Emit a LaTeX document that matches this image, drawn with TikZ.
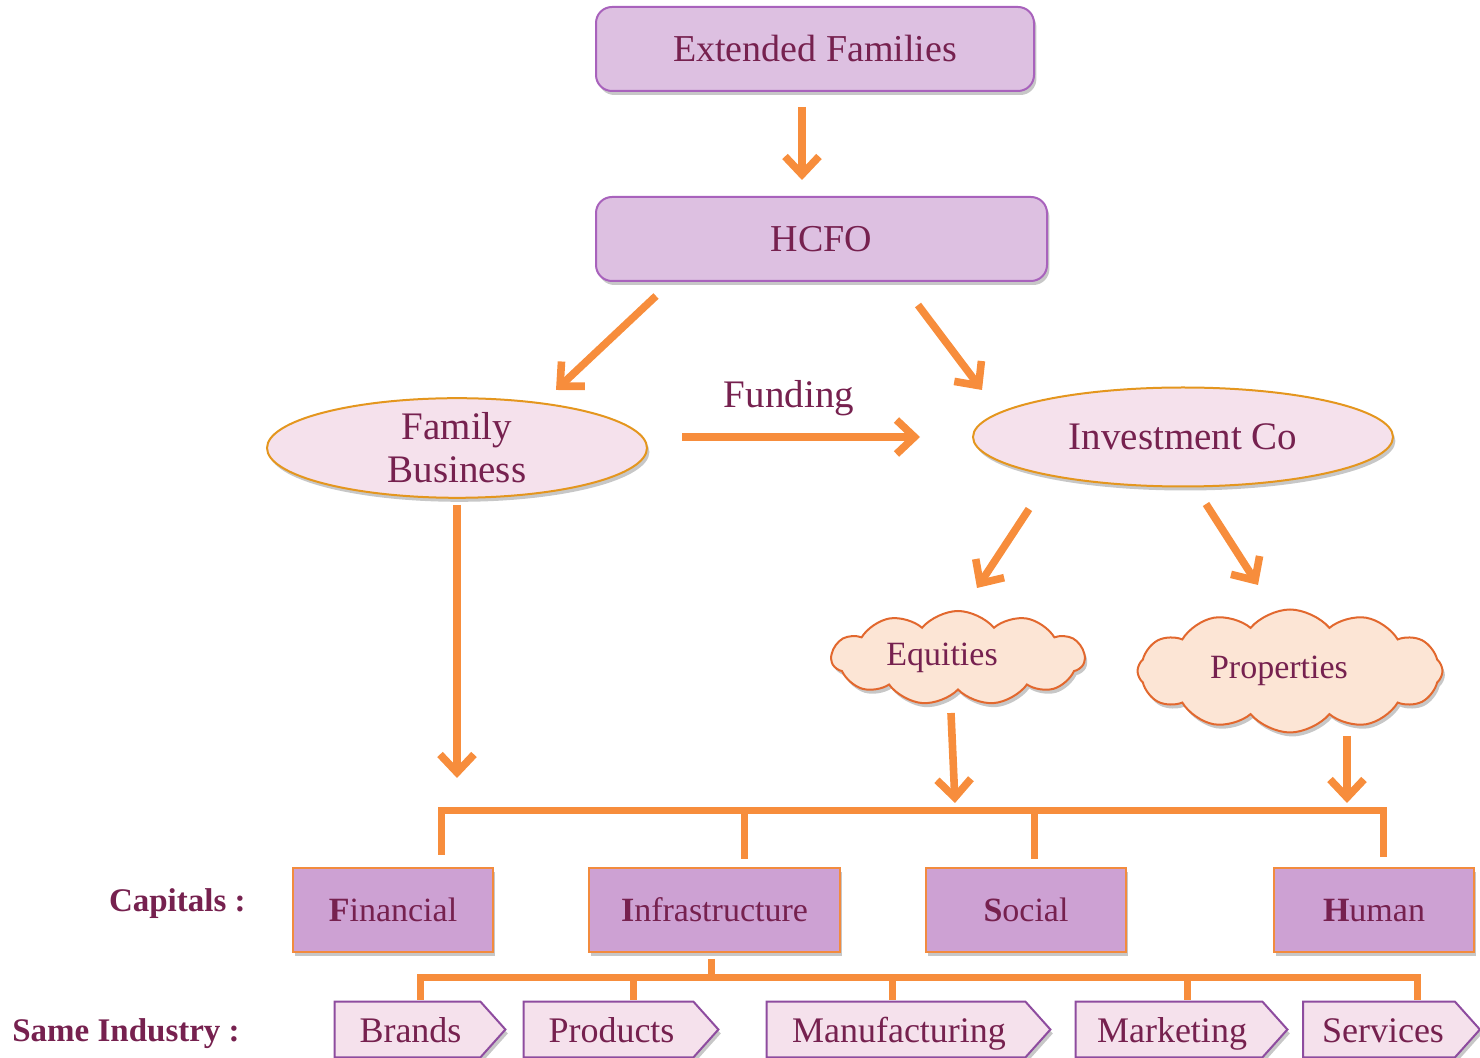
\documentclass[tikz,border=0pt]{standalone}
\usepackage{fontspec}
\setmainfont{Liberation Serif}
\usetikzlibrary{shapes.geometric,shapes.symbols,arrows.meta,shadows,backgrounds}
\definecolor{txt}{HTML}{76214F}
\definecolor{boxfill}{HTML}{DDC0E1}
\definecolor{boxline}{HTML}{A862BC}
\definecolor{ellfill}{HTML}{F5E1EC}
\definecolor{ellline}{HTML}{E4961E}
\definecolor{cloudfill}{HTML}{FCE5D5}
\definecolor{cloudline}{HTML}{E2682E}
\definecolor{capfill}{HTML}{CDA1D3}
\definecolor{capline}{HTML}{F28B3E}
\definecolor{chevfill}{HTML}{F5E1EC}
\definecolor{chevline}{HTML}{8E4C9F}
\definecolor{orng}{HTML}{F78D3C}
\tikzset{
  shad/.style={drop shadow={shadow xshift=1.2pt,shadow yshift=-2pt,opacity=0.22,fill=black}},
  topbox/.style={rectangle,rounded corners=8pt,fill=boxfill,draw=boxline,line width=1pt,
     text=txt,font=\fontsize{19}{22}\selectfont,inner sep=0pt,shad},
  ell/.style={ellipse,fill=ellfill,draw=ellline,line width=1pt,text=txt,
     font=\fontsize{19.5}{21.5}\selectfont,inner sep=0pt,align=center,shad},
  cld/.style={cloud,cloud puffs=12,cloud puff arc=100,cloud ignores aspect,fill=cloudfill,
     draw=cloudline,line width=1pt,text=txt,font=\fontsize{17}{20}\selectfont,inner sep=0pt,shad},
  capbox/.style={rectangle,fill=capfill,draw=capline,line width=1pt,text=txt,
     font=\fontsize{17}{20}\selectfont,minimum height=42pt,inner sep=0pt,
     text height=16pt,text depth=4pt,shad},
  chevtext/.style={rectangle,inner sep=0pt,minimum height=27.5pt,text=txt,
     font=\fontsize{18}{20}\selectfont,text height=17.5pt,text depth=4pt},
  chev/.style={fill=chevfill,draw=chevline,line width=1pt,line join=miter,shad},
  arr/.style={draw=orng,line width=3.8pt,-{Straight Barb[length=9pt,width=17pt]}},
  bus/.style={draw=orng,line width=3.5pt,line join=miter},
  lbl/.style={text=txt,font=\fontsize{16.5}{20}\bfseries\selectfont,inner sep=0pt},
}
\begin{document}
\begin{tikzpicture}[x=0.5pt,y=-0.5pt]
\useasboundingbox (0,0) rectangle (1480,1058);

% top boxes
\node[topbox,minimum width=219pt,minimum height=42pt] (ext) at (815,49) {Extended Families};
\node[topbox,minimum width=225.5pt,minimum height=42pt] (hcfo) at (821.5,239) {HCFO};

% ellipses
\node[ell,minimum width=190pt,minimum height=49pt] (fam) at (457,448) {Family\\Business};
\node[ell,minimum width=210pt,minimum height=49.5pt] (inv) at (1183,437) {Investment Co};

% clouds
\node[cld,cloud puffs=11,minimum width=126.5pt,minimum height=47pt] (equ) at (958,658) {\hspace*{-16pt}Equities};
\node[cld,minimum width=152.5pt,minimum height=61.5pt] (prop) at (1290,671) {\hspace*{-11pt}Properties};

% funding label
\node[text=txt,font=\fontsize{19.5}{22}\selectfont,inner sep=0pt] (fund) at (789,398) {Funding};

% capitals
\node[lbl,anchor=east] (caplbl) at (246,904) {Capitals :};
\node[capbox,minimum width=100pt] (fin) at (393,910) {\textbf{F}inancial};
\node[capbox,minimum width=125.5pt] (inf) at (714.5,910) {\textbf{I}nfrastructure};
\node[capbox,minimum width=100pt] (soc) at (1026,910) {\textbf{S}ocial};
\node[capbox,minimum width=100pt] (hum) at (1374,910) {\textbf{H}uman};

% same industry
\node[lbl,anchor=west] (sil) at (12,1034) {Same Industry :};
\node[chevtext,minimum width=72.5pt] (bra) at (410.5,1029.5) {Brands};
\node[chevtext,minimum width=84.5pt] (pro) at (611.5,1029.5) {Products};
\node[chevtext,minimum width=129pt] (man) at (899,1029.5) {Manufacturing};
\node[chevtext,minimum width=93pt] (mar) at (1172,1029.5) {Marketing};
\node[chevtext,minimum width=75.5pt] (ser) at (1383,1029.5) {Services};

\begin{scope}[on background layer]
\foreach \n/\dx in {bra/-1.5pt,pro/-1.5pt,man/-1.5pt,mar/-1.5pt,ser/-2pt}{
  \draw[chev] ([xshift=\dx]\n.north west) -- ([xshift=\dx]\n.north east) -- ([xshift=\dx+12.5pt]\n.east)
     -- ([xshift=\dx]\n.south east) -- ([xshift=\dx]\n.south west) -- cycle;
}
\end{scope}

% arrow endpoints
\coordinate (a1s) at (802,107);  \coordinate (a1e) at (802,180);
\coordinate (a2s) at (656,296);  \coordinate (a2e) at (556,390);
\coordinate (a3s) at (918,305);  \coordinate (a3e) at (982,390);
\coordinate (a4s) at (682,437);  \coordinate (a4e) at (920,437);
\coordinate (a5s) at (1029,509); \coordinate (a5e) at (977,588);
\coordinate (a6s) at (1206,504); \coordinate (a6e) at (1258,585);
\coordinate (a7s) at (457,505);  \coordinate (a7e) at (457,778);
\coordinate (a8s) at (951,713);  \coordinate (a8e) at (955,803);
\coordinate (a9s) at (1347,736); \coordinate (a9e) at (1347,803);

\draw[arr] (a1s) -- (a1e);
\draw[arr] (a2s) -- (a2e);
\draw[arr] (a3s) -- (a3e);
\draw[arr] (a4s) -- (a4e);
\draw[arr] (a5s) -- (a5e);
\draw[arr] (a6s) -- (a6e);
\draw[arr] (a7s) -- (a7e);
\draw[arr] (a8s) -- (a8e);
\draw[arr] (a9s) -- (a9e);

% top bus
\coordinate (busT) at (744,811);
\draw[bus] ([xshift=24pt,yshift=6pt]fin.north) |- (busT) -| ([xshift=4.5pt,yshift=5pt]hum.north);
\draw[bus] (busT) -- ([xshift=14.75pt,yshift=4pt]inf.north);
\draw[bus] (soc.north |- busT) ++(4pt,0) -- ([xshift=4pt,yshift=4pt]soc.north);

% bottom bus
\coordinate (busB) at (711,978);
\draw[bus] ([xshift=-1.75pt,yshift=-3pt]inf.south) -- (busB);
\draw[bus] ([xshift=4.75pt,yshift=1pt]bra.north) |- (busB) -| ([xshift=17.25pt,yshift=1pt]ser.north);
\draw[bus] (pro.north |- busB) ++(10.75pt,0) -- ([xshift=10.75pt,yshift=1pt]pro.north);
\draw[bus] (man.north |- busB) ++(-3.5pt,0) -- ([xshift=-3.5pt,yshift=1pt]man.north);
\draw[bus] (mar.north |- busB) ++(7.5pt,0) -- ([xshift=7.5pt,yshift=1pt]mar.north);
\end{tikzpicture}
\end{document}
